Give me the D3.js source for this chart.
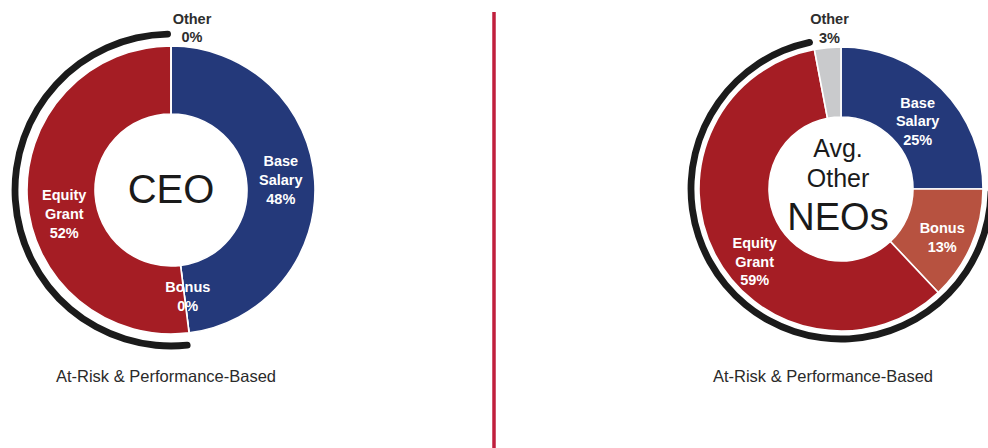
<!DOCTYPE html>
<html>
<head>
<meta charset="utf-8">
<script src="https://cdn.jsdelivr.net/npm/d3@7"></script>
<style>
  html, body { margin: 0; padding: 0; background: #ffffff; }
  svg { display: block; font-family: "Liberation Sans", Arial, Helvetica, sans-serif; }
</style>
</head>
<body>
<svg id="chart" width="988" height="448"></svg>
<script>
// Pay components, clockwise from 12 o'clock
const categories = ["Base Salary", "Bonus", "Equity Grant", "Other"];
const ceoValues = [48, 0, 52, 0];
const neoValues = [25, 13, 59, 3];
// Components that make up the at-risk bracket
const atRiskCategories = ["Bonus", "Equity Grant"];
const captionText = "At-Risk & Performance-Based";
const ceoTitle = ["CEO"];
const neoTitle = ["Avg.", "Other", "NEOs"];

const colors = d3.scaleOrdinal()
  .domain(categories)
  .range(["#24397a", "#b75240", "#a51d24", "#c9cacc"]);

const svg = d3.select("#chart");

// Per-chart geometry and label nudges
const charts = [
  {
    values: ceoValues,
    cx: 171, cy: 190, inner: 76, outer: 144, bracketR: 156,
    title: ceoTitle,
    titleLines: [{ size: 40, y: 203 }],
    titleX: 171,
    captionX: 166,
    nudge: {
      "Base Salary": [0, -3],
      "Bonus": [3, -3],
      "Equity Grant": [3, 17],
      "Other": [21, 3]
    }
  },
  {
    values: neoValues,
    cx: 841, cy: 189, inner: 72, outer: 142, bracketR: 150,
    title: neoTitle,
    titleLines: [{ size: 25, y: 157 }, { size: 25, y: 187 }, { size: 38, y: 230 }],
    titleX: 838,
    captionX: 823,
    nudge: {
      "Base Salary": [1, 8],
      "Bonus": [3, 6],
      "Equity Grant": [9, 24],
      "Other": [4, 4]
    }
  }
];

const pie = d3.pie().sort(null).value(d => d.value);
const lineH = 18.8;

charts.forEach(c => {
  const data = categories.map((name, i) => ({ name, value: c.values[i] }));
  const arcs = pie(data);
  const g = svg.append("g").attr("transform", `translate(${c.cx},${c.cy})`);

  const arc = d3.arc().innerRadius(c.inner).outerRadius(c.outer);

  // Donut slices
  g.selectAll("path.slice")
    .data(arcs)
    .join("path")
    .attr("class", "slice")
    .attr("d", arc)
    .attr("fill", d => colors(d.data.name))
    .attr("stroke", "#ffffff")
    .attr("stroke-width", 1.6)
    .attr("stroke-linejoin", "miter");

  // Bracket around the at-risk components
  const riskArcs = arcs.filter(a => atRiskCategories.includes(a.data.name));
  const start = d3.min(riskArcs, a => a.startAngle);
  const end = d3.max(riskArcs, a => a.endAngle);
  const bracket = d3.arc()
    .innerRadius(c.bracketR - 3.4)
    .outerRadius(c.bracketR + 3.4)
    .cornerRadius(3.4);
  g.append("path")
    .attr("d", bracket({ startAngle: start, endAngle: end }))
    .attr("fill", "#1b1b1b");

  // Slice labels
  const labelArc = d3.arc()
    .innerRadius((c.inner + c.outer) / 2)
    .outerRadius((c.inner + c.outer) / 2);
  const outerArc = d3.arc().innerRadius(165).outerRadius(165);

  arcs.forEach(a => {
    const name = a.data.name;
    const isOther = name === "Other";
    const lines = name.split(" ").concat([a.data.value + "%"]);
    const p = isOther ? outerArc.centroid(a) : labelArc.centroid(a);
    const [nx, ny] = c.nudge[name];
    const x = p[0] + nx;
    const yMid = p[1] + ny;
    const first = yMid - (lines.length - 1) * lineH / 2 + 5;
    const t = g.append("text")
      .attr("text-anchor", "middle")
      .attr("font-size", 14.5)
      .attr("font-weight", "bold")
      .attr("fill", isOther ? "#2e2e2e" : "#ffffff");
    lines.forEach((s, i) => {
      t.append("tspan")
        .attr("x", x)
        .attr("y", first + i * lineH)
        .text(s);
    });
  });

  // Centre title
  c.title.forEach((s, i) => {
    svg.append("text")
      .attr("x", c.titleX)
      .attr("y", c.titleLines[i].y)
      .attr("text-anchor", "middle")
      .attr("font-size", c.titleLines[i].size)
      .attr("fill", "#1a1a1a")
      .text(s);
  });

  // Caption under the donut
  svg.append("text")
    .attr("x", c.captionX)
    .attr("y", 382)
    .attr("text-anchor", "middle")
    .attr("font-size", 16.5)
    .attr("fill", "#2a2a2a")
    .text(captionText);
});

// Vertical divider between the two charts
svg.append("line")
  .attr("x1", 494).attr("x2", 494)
  .attr("y1", 12).attr("y2", 448)
  .attr("stroke", "#c01f3d")
  .attr("stroke-width", 3.5);
</script>
</body>
</html>
